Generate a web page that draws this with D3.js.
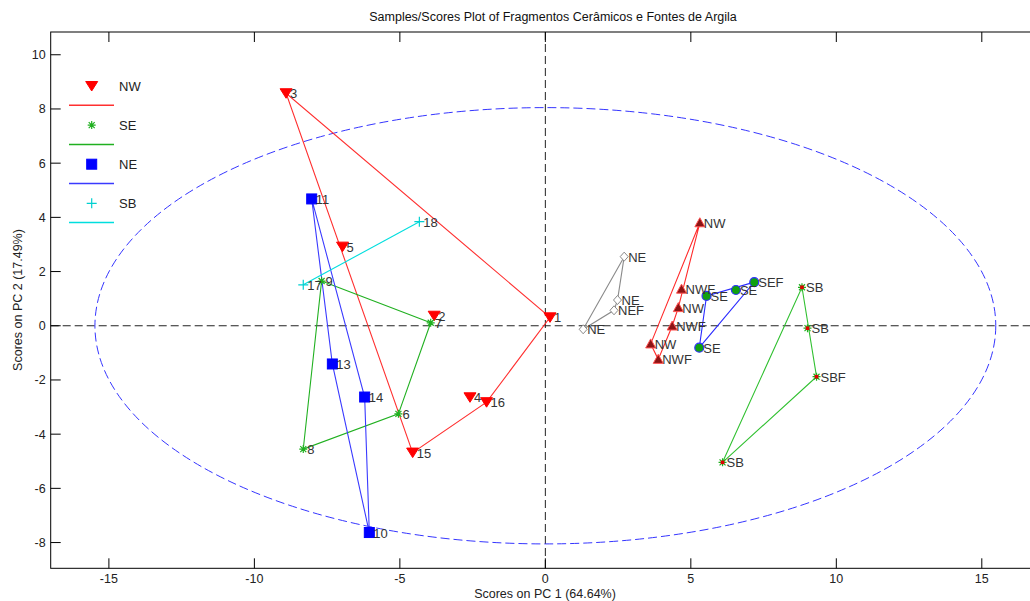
<!DOCTYPE html>
<html><head><meta charset="utf-8">
<script src="https://cdn.jsdelivr.net/npm/d3@7"></script>
<style>
html,body{margin:0;padding:0;background:#fff;overflow:hidden}
svg{display:block;font-family:"Liberation Sans",Arial,sans-serif}
</style></head>
<body>
<svg id="c" width="1030" height="601"></svg>
<script>
// ---------- data ----------
const title = "Samples/Scores Plot of Fragmentos Cerâmicos e Fontes de Argila";
const xLabel = "Scores on PC 1 (64.64%)";
const yLabel = "Scores on PC 2 (17.49%)";
const xTicks = [-15, -10, -5, 0, 5, 10, 15];
const yTicks = [-8, -6, -4, -2, 0, 2, 4, 6, 8, 10];
const legendNames = ["NW", "SE", "NE", "SB"];

// fragments NW (red down triangles)
const nwLabels = ["3", "5", "2", "1", "4", "16", "15"];
const nwPC1 = [-8.91, -6.97, -3.82, 0.16, -2.59, -2.02, -4.56];
const nwPC2 = [8.58, 2.92, 0.37, 0.31, -2.64, -2.82, -4.68];
// fragments SE (green asterisks)
const seLabels = ["9", "7", "6", "8"];
const sePC1 = [-7.69, -3.94, -5.05, -8.32];
const sePC2 = [1.65, 0.11, -3.25, -4.55];
// fragments NE (blue squares)
const neLabels = ["11", "13", "14", "10"];
const nePC1 = [-8.03, -7.32, -6.21, -6.05];
const nePC2 = [4.68, -1.41, -2.63, -7.63];
// fragments SB (cyan plus)
const sbLabels = ["17", "18"];
const sbPC1 = [-8.32, -4.33];
const sbPC2 = [1.51, 3.84];
// clay sources NE (grey diamonds)
const srcNeLabels = ["NE", "NE", "NEF", "NE"];
const srcNePC1 = [2.71, 2.48, 2.36, 1.30];
const srcNePC2 = [2.55, 0.95, 0.57, -0.13];
// clay sources NW (dark red up triangles)
const srcNwLabels = ["NW", "NWF", "NW", "NWF", "NW", "NWF"];
const srcNwPC1 = [5.31, 4.68, 4.57, 4.36, 3.62, 3.88];
const srcNwPC2 = [3.80, 1.35, 0.67, -0.01, -0.67, -1.24];
// clay sources SE (green circles)
const srcSeLabels = ["SE", "SE", "SEF", "SE"];
const srcSePC1 = [5.54, 6.55, 7.18, 5.29];
const srcSePC2 = [1.10, 1.32, 1.61, -0.81];
// clay sources SB (stars)
const srcSbLabels = ["SB", "SB", "SBF", "SB"];
const srcSbPC1 = [8.82, 9.01, 9.32, 6.09];
const srcSbPC2 = [1.42, -0.09, -1.88, -5.04];
// confidence ellipse semi-axes (PC units)
const ellipseRx = 15.48, ellipseRy = 8.05;

// ---------- build ----------
function mk(labels, px, py) { return labels.map((l, i) => ({label: l, x: px[i], y: py[i]})); }
const groups = [
  {pts: mk(srcNeLabels, srcNePC1, srcNePC2), line: "#8a8a8a", marker: "diamond", fill: "#fff", stroke: "#8a8a8a"},
  {pts: mk(srcNwLabels, srcNwPC1, srcNwPC2), line: "#ff2a2a", marker: "up", fill: "#8c1414", stroke: "#ff5050"},
  {pts: mk(srcSeLabels, srcSePC1, srcSePC2), line: "#2a2aff", marker: "circle", fill: "#10a010", stroke: "#3030ff"},
  {pts: mk(srcSbLabels, srcSbPC1, srcSbPC2), line: "#30c030", marker: "starRed", fill: "#e00000", stroke: "#20b020"},
  {pts: mk(nwLabels, nwPC1, nwPC2), line: "#ff3030", marker: "down", fill: "#ff0000", stroke: "#ff0000"},
  {pts: mk(seLabels, sePC1, sePC2), line: "#20b020", marker: "star", fill: "none", stroke: "#20b020"},
  {pts: mk(neLabels, nePC1, nePC2), line: "#3a3aff", marker: "square", fill: "#0000ff", stroke: "#0000ff"},
  {pts: mk(sbLabels, sbPC1, sbPC2), line: "#00dede", marker: "plus", fill: "none", stroke: "#00d0d0"}
];

const L = 50.7, R = 1040, T = 32, B = 568.3;
const x = d3.scaleLinear().domain([-17, 17]).range([L, R]);
const y = d3.scaleLinear().domain([-8.95, 10.84]).range([B, T]);

const svg = d3.select("#c");
svg.append("defs").append("clipPath").attr("id", "clip")
  .append("rect").attr("x", L).attr("y", T).attr("width", R - L).attr("height", B - T);

// title & labels
svg.append("text").attr("x", 553).attr("y", 21).attr("text-anchor", "middle")
  .attr("font-size", 12.5).attr("fill", "#111").text(title);
svg.append("text").attr("x", 545).attr("y", 598).attr("text-anchor", "middle")
  .attr("font-size", 12.5).attr("fill", "#222").text(xLabel);
svg.append("text").attr("transform", "translate(22,300) rotate(-90)").attr("text-anchor", "middle")
  .attr("font-size", 12.5).attr("fill", "#222").text(yLabel);

const plot = svg.append("g").attr("clip-path", "url(#clip)");

// zero lines
plot.append("line").attr("x1", x(0)).attr("x2", x(0)).attr("y1", T).attr("y2", B)
  .attr("stroke", "#222").attr("stroke-dasharray", "8,4");
plot.append("line").attr("x1", L).attr("x2", R).attr("y1", y(0)).attr("y2", y(0))
  .attr("stroke", "#222").attr("stroke-dasharray", "8,4");

// ellipse
plot.append("ellipse").attr("cx", x(0)).attr("cy", y(0))
  .attr("rx", x(ellipseRx) - x(0)).attr("ry", y(0) - y(ellipseRy))
  .attr("fill", "none").attr("stroke", "#3535ff").attr("stroke-dasharray", "9,4");

// hulls
groups.forEach(g => {
  const p = g.pts.map(d => [x(d.x), y(d.y)]);
  let poly = p.length >= 3 ? d3.polygonHull(p) : p;
  const path = d3.line()(poly) + (p.length >= 3 ? "Z" : "");
  plot.append("path").attr("d", path).attr("fill", "none")
    .attr("stroke", g.line).attr("stroke-width", 1.1);
});

function drawMarker(sel, type, fill, stroke) {
  if (type === "down") sel.append("path").attr("d", "M-6,-4.5L6,-4.5L0,5Z").attr("fill", fill).attr("stroke", stroke);
  else if (type === "up") sel.append("path").attr("d", "M-5,4L5,4L0,-5Z").attr("fill", fill).attr("stroke", stroke);
  else if (type === "square") sel.append("rect").attr("x", -5).attr("y", -5).attr("width", 10).attr("height", 10).attr("fill", fill).attr("stroke", stroke);
  else if (type === "circle") sel.append("circle").attr("r", 4.5).attr("fill", fill).attr("stroke", stroke).attr("stroke-width", 1.2);
  else if (type === "diamond") sel.append("path").attr("d", "M0,-4.5L4,0L0,4.5L-4,0Z").attr("fill", fill).attr("stroke", stroke);
  else if (type === "plus") sel.append("path").attr("d", "M-5,0H5M0,-5V5").attr("stroke", stroke).attr("stroke-width", 1.2);
  else if (type === "star" || type === "starRed") {
    sel.append("path").attr("d", "M-4,0H4M0,-4V4M-3,-3L3,3M-3,3L3,-3").attr("stroke", stroke).attr("stroke-width", 1.2);
    if (type === "starRed") sel.append("rect").attr("x", -1.8).attr("y", -1.8).attr("width", 3.6).attr("height", 3.6).attr("fill", fill);
  }
}

// markers
groups.forEach(g => {
  g.pts.forEach(d => {
    const m = plot.append("g").attr("transform", `translate(${x(d.x)},${y(d.y)})`);
    drawMarker(m, g.marker, g.fill, g.stroke);
  });
});
// point labels
groups.forEach(g => {
  g.pts.forEach(d => {
    plot.append("text").attr("x", x(d.x) + 4).attr("y", y(d.y) + 5)
      .attr("font-size", 13).attr("fill", "#333").text(d.label);
  });
});

// axes frame
const axisG = svg.append("g");
axisG.append("rect").attr("x", L).attr("y", T).attr("width", R - L).attr("height", B - T)
  .attr("fill", "none").attr("stroke", "#000");
xTicks.forEach(t => {
  axisG.append("line").attr("x1", x(t)).attr("x2", x(t)).attr("y1", B).attr("y2", B - 10).attr("stroke", "#000");
  axisG.append("line").attr("x1", x(t)).attr("x2", x(t)).attr("y1", T).attr("y2", T + 10).attr("stroke", "#000");
  axisG.append("text").attr("x", x(t)).attr("y", B + 15).attr("text-anchor", "middle")
    .attr("font-size", 12.5).attr("fill", "#222").text(t);
});
yTicks.forEach(t => {
  axisG.append("line").attr("x1", L).attr("x2", L + 10).attr("y1", y(t)).attr("y2", y(t)).attr("stroke", "#000");
  axisG.append("line").attr("x1", R).attr("x2", R - 10).attr("y1", y(t)).attr("y2", y(t)).attr("stroke", "#000");
  axisG.append("text").attr("x", L - 5).attr("y", y(t) + 4.5).attr("text-anchor", "end")
    .attr("font-size", 12.5).attr("fill", "#222").text(t);
});

// legend
const lg = svg.append("g");
lg.append("rect").attr("x", 66).attr("y", 66).attr("width", 78).attr("height", 162).attr("fill", "#fff");
const legendGroups = [groups[4], groups[5], groups[6], groups[7]];
legendNames.forEach((n, i) => {
  const g = legendGroups[i];
  const my = 86 + i * 39.1;
  const m = lg.append("g").attr("transform", `translate(91.7,${my})`);
  drawMarker(m, g.marker, g.fill, g.stroke);
  lg.append("text").attr("x", 119).attr("y", my + 4.5).attr("font-size", 13).attr("fill", "#222").text(n);
  lg.append("line").attr("x1", 69).attr("x2", 114).attr("y1", my + 19.3).attr("y2", my + 19.3)
    .attr("stroke", g.line).attr("stroke-width", 1.5);
});
</script>
</body></html>
